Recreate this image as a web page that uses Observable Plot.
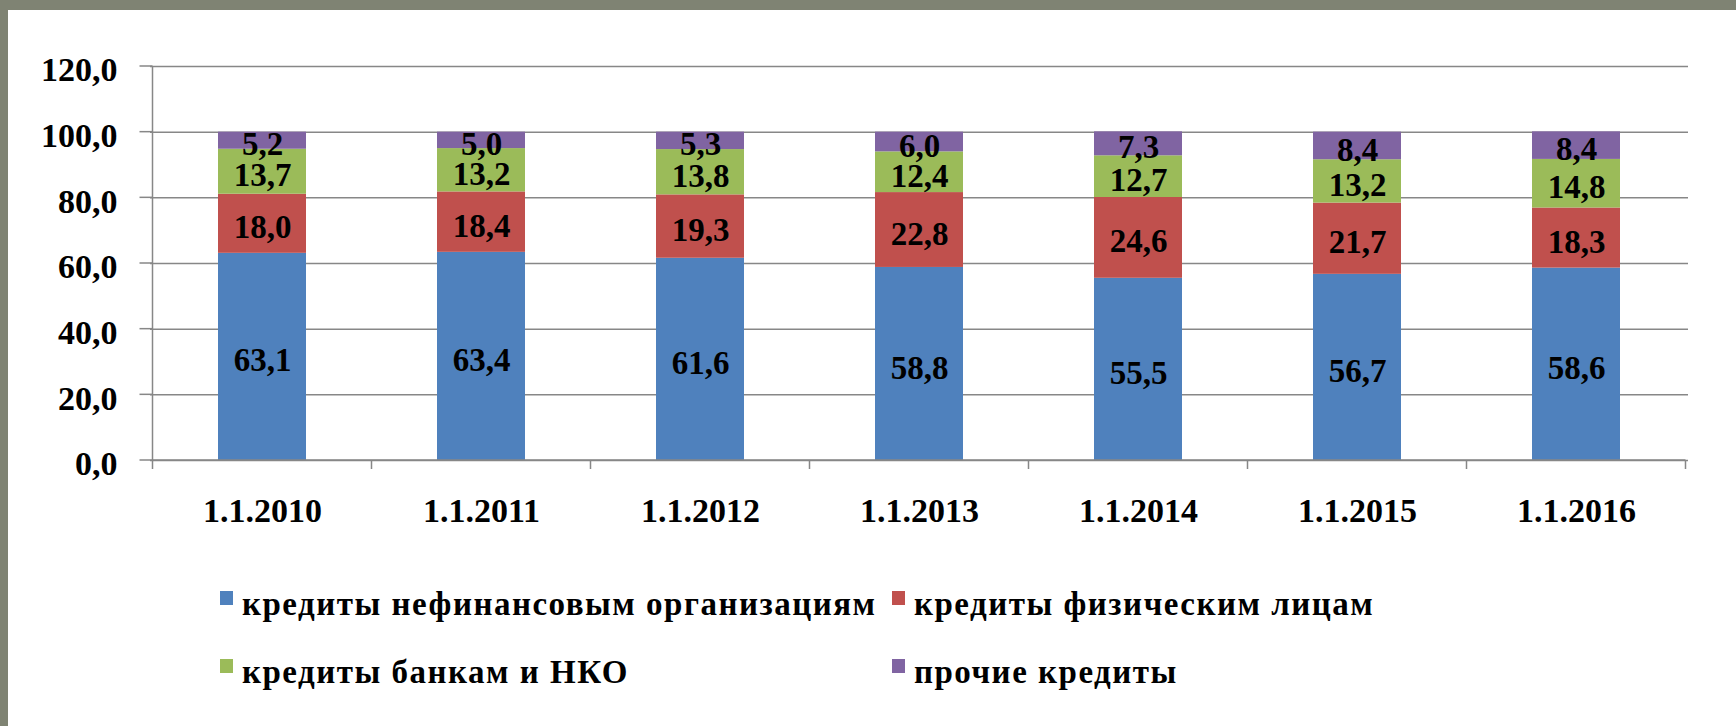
<!DOCTYPE html>
<html><head><meta charset="utf-8">
<script src="https://cdn.jsdelivr.net/npm/d3@7"></script>
<script src="https://cdn.jsdelivr.net/npm/@observablehq/plot@0.6"></script>
<style>
html,body{margin:0;padding:0;}
body{width:1736px;height:726px;background:#7f8373;position:relative;overflow:hidden;font-family:'Liberation Serif',serif;}
#panel{position:absolute;left:8px;top:10px;right:0;bottom:0;background:#fff;}
#chart{position:absolute;left:0;top:0;}
#legend{position:absolute;left:0;top:0;width:1736px;height:726px;pointer-events:none;}
.item{position:absolute;display:flex;align-items:baseline;font-family:'Liberation Serif',serif;font-weight:bold;font-size:33px;letter-spacing:1.5px;color:#000;white-space:nowrap;}
.sw{display:inline-block;width:13px;height:14px;margin-right:9px;transform:translateY(-10px);}
</style></head><body>
<div id="panel"></div>
<div id="chart"></div>
<div id="legend"></div>
<script>
const dates = ["1.1.2010","1.1.2011","1.1.2012","1.1.2013","1.1.2014","1.1.2015","1.1.2016"];
const seriesNames = ["кредиты нефинансовым организациям","кредиты физическим лицам","кредиты банкам и НКО","прочие кредиты"];
const seriesColors = ["#4f81bd","#c0504d","#9bbb59","#8064a2"];
const nonfinancial = [63.1,63.4,61.6,58.8,55.5,56.7,58.6];
const individuals = [18.0,18.4,19.3,22.8,24.6,21.7,18.3];
const banks = [13.7,13.2,13.8,12.4,12.7,13.2,14.8];
const other = [5.2,5.0,5.3,6.0,7.3,8.4,8.4];
const yTicks = [0,20,40,60,80,100,120];

const seriesValues = [nonfinancial, individuals, banks, other];
const table = dates.flatMap((d,i) => seriesNames.map((s,j) => ({date:d, series:s, value:seriesValues[j][i]})));
const fmt = v => v.toFixed(1).replace(".", ",");
const gridColor = "#878787";
const serif = "'Liberation Serif', serif";

function frameLines(index, scales, values, dims) {
  const x = scales.x, y = scales.y;
  const step = x(dates[1]) - x(dates[0]);
  let bw = typeof x.bandwidth === "function" ? x.bandwidth() : x.bandwidth;
  if (bw == null || isNaN(bw)) bw = step * 0.4;
  const centers = dates.map(d => x(d) + bw/2);
  const bounds = [centers[0] - step/2, ...centers.map(c => c + step/2)];
  const y0 = y(0), yTop = y(yTicks[yTicks.length-1]);
  const g = d3.create("svg:g").attr("stroke", gridColor).attr("stroke-width", 1.5);
  g.append("line").attr("x1", bounds[0]).attr("x2", bounds[bounds.length-1]).attr("y1", y0).attr("y2", y0);
  g.append("line").attr("x1", bounds[0]).attr("x2", bounds[0]).attr("y1", yTop).attr("y2", y0);
  for (const b of bounds) g.append("line").attr("x1", b).attr("x2", b).attr("y1", y0).attr("y2", y0 + 9);
  for (const t of yTicks) g.append("line").attr("x1", bounds[0] - 13).attr("x2", bounds[0]).attr("y1", y(t)).attr("y2", y(t));
  return g.node();
}

const chart = Plot.plot({
  width: 1736, height: 540,
  marginLeft: 150, marginRight: 48, marginTop: 66, marginBottom: 80,
  style: {background: "transparent", fontFamily: serif, color: "#000"},
  x: {domain: dates, paddingInner: 0.6, paddingOuter: 0.3, axis: null},
  y: {domain: [0, 120], axis: null},
  color: {domain: seriesNames, range: seriesColors},
  marks: [
    Plot.gridY(yTicks, {stroke: gridColor, strokeOpacity: 1, strokeWidth: 1.5}),
    Plot.barY(table, {x: "date", y: "value", fill: "series"}),
    Plot.ruleY([0], {render: frameLines}),
    Plot.text(table, Plot.stackY({x: "date", y: "value", z: "series", text: d => fmt(d.value), fontFamily: serif, fontSize: 33, fontWeight: "bold", fill: "#000", dy: 4})),
    Plot.axisY(yTicks, {tickSize: 0, tickPadding: 33, tickFormat: fmt, fontFamily: serif, fontSize: 34, fontWeight: "bold", fill: "#000", dy: 4, label: null}),
    Plot.axisX({tickSize: 0, tickPadding: 37, fontFamily: serif, fontSize: 34, fontWeight: "bold", fill: "#000", label: null})
  ]
});
document.getElementById("chart").append(chart);

const legendPos = [[220, 616], [892, 616], [220, 684], [892, 684]];
const legend = document.getElementById("legend");
seriesNames.forEach((name, i) => {
  const it = document.createElement("div");
  it.className = "item";
  it.style.left = legendPos[i][0] + "px";
  it.style.top = (legendPos[i][1] - 30) + "px";
  const sw = document.createElement("span");
  sw.className = "sw";
  sw.style.background = seriesColors[i];
  const tx = document.createElement("span");
  tx.textContent = name;
  it.append(sw, tx);
  legend.append(it);
});
</script>
</body></html>
